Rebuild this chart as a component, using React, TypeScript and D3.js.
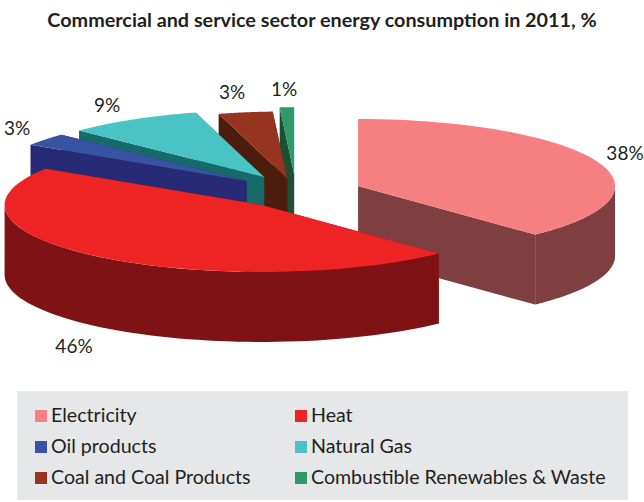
import React from "react";
import * as d3 from "d3";

const categories = ["Electricity", "Heat", "Oil products", "Natural Gas", "Coal and Coal Products", "Combustible Renewables & Waste"];
const shares = [37.9, 46.2, 3.1, 8.5, 3.4, 0.9];
const shareLabels = ["38%", "46%", "3%", "9%", "3%", "1%"];
const topColors = ["#f67f81", "#ee2324", "#3953a4", "#4ac3c4", "#973420", "#2f9a68"];
const sideColors = ["#7f3f40", "#7f1214", "#272a75", "#166a69", "#4c1d0d", "#1d5030"];
const explodesX = [0.26, 0.21, 0.245, 0.242, 0.21, 0.25];
const explodesY = [0.2, 0.27, 0.238, 0.242, 0.19, 0.25];
const drawOrder = [5, 4, 3, 2, 0, 1];
const labelPos: [number, number][] = [[625, 160], [74, 353], [17, 135], [107, 112], [232, 99], [284, 96]];
const title = "Commercial and service sector energy consumption in 2011, %";

const W = 644, H = 502;
const CX = 296, CY = 191, RX = 257, RY = 67, DEPTH = 70;
const FONT = "Lato, Carlito, 'Open Sans', sans-serif";
const TAU = Math.PI * 2;

const arcs = d3.pie<number>().sort(null).value((d) => d)(shares);
const toPath = d3.line<[number, number]>().x((d) => d[0]).y((d) => d[1]);
const ell = (a: number, ox: number, oy: number, dz = 0): [number, number] => [
  ox + RX * Math.sin(a),
  oy - RY * Math.cos(a) + dz,
];
const sweep = (a0: number, a1: number, ox: number, oy: number, dz = 0) =>
  d3.range(0, 61).map((i) => ell(a0 + ((a1 - a0) * i) / 60, ox, oy, dz));

function Slice({ i }: { i: number }) {
  const { startAngle: a0, endAngle: a1 } = arcs[i];
  const mid = (a0 + a1) / 2;
  const ox = CX + explodesX[i] * RX * Math.sin(mid);
  const oy = CY - explodesY[i] * RY * Math.cos(mid);
  const top: [number, number][] = [[ox, oy], ...sweep(a0, a1, ox, oy)];
  const face = (a: number): [number, number][] => {
    const p = ell(a, ox, oy);
    return [[ox, oy], p, [p[0], p[1] + DEPTH], [ox, oy + DEPTH]];
  };
  const w0 = Math.max(a0, TAU / 4);
  const w1 = Math.min(a1, (TAU * 3) / 4);
  const wall: [number, number][] | null =
    w1 > w0 ? [...sweep(w0, w1, ox, oy), ...sweep(w1, w0, ox, oy, DEPTH)] : null;
  return (
    <g>
      <path d={toPath(face(a1)) + "Z"} fill={sideColors[i]} />
      <path d={toPath(face(a0)) + "Z"} fill={sideColors[i]} />
      {wall && <path d={toPath(wall) + "Z"} fill={sideColors[i]} />}
      <path d={toPath(top) + "Z"} fill={topColors[i]} />
    </g>
  );
}

const legendCols = [35, 295];
const legendRows = [416, 447, 478];

export default function App() {
  return (
    <svg width={W} height={H} style={{ position: "fixed", left: 0, top: 0 }} fontFamily={FONT}>
      <rect width={W} height={H} fill="#fff" />
      <text x={322} y={27} textAnchor="middle" fontSize={19.8} fontWeight={700} fill="#231f20">{title}</text>
      {drawOrder.map((i) => <Slice key={i} i={i} />)}
      {shareLabels.map((t, i) => (
        <text key={i} x={labelPos[i][0]} y={labelPos[i][1]} textAnchor="middle" fontSize={19} fill="#231f20">{t}</text>
      ))}
      <rect x={17} y={391} width={611} height={109} fill="#e6e7e8" />
      {categories.map((c, i) => {
        const x = legendCols[i % 2];
        const y = legendRows[Math.floor(i / 2)];
        return (
          <g key={c}>
            <rect x={x} y={y - 6} width={12} height={12} fill={topColors[i]} />
            <text x={x + 16} y={y + 6} fontSize={19.6} fill="#231f20">{c}</text>
          </g>
        );
      })}
    </svg>
  );
}
